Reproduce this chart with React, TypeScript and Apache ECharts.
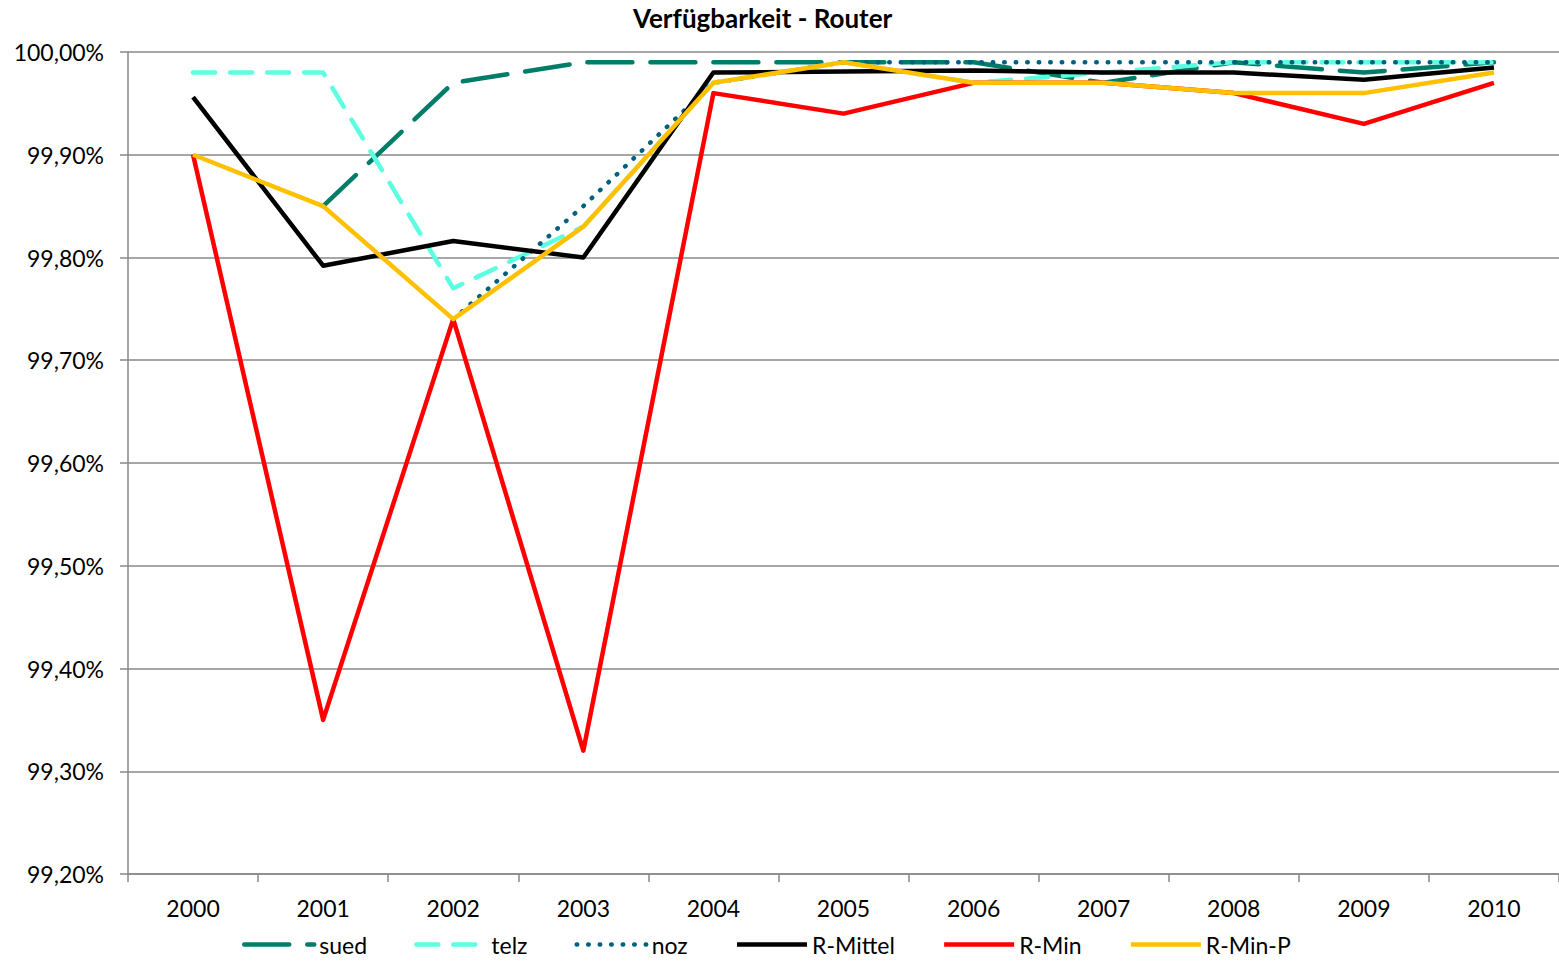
import React, { useEffect, useRef } from "react";
import * as echarts from "echarts";

const years = ["2000", "2001", "2002", "2003", "2004", "2005", "2006", "2007", "2008", "2009", "2010"];
const sued = [null, 99.85, 99.97, 99.99, 99.99, 99.99, 99.99, 99.97, 99.99, 99.98, 99.99];
const telz = [99.98, 99.98, 99.77, 99.83, 99.97, 99.99, 99.97, 99.98, 99.99, 99.99, 99.99];
const noz = [null, null, 99.74, 99.85, 99.97, 99.99, 99.99, 99.99, 99.99, 99.99, 99.99];
const rMittel = [99.956, 99.792, 99.816, 99.8, 99.98, 99.981, 99.982, 99.98, 99.98, 99.973, 99.985];
const rMin = [99.9, 99.35, 99.74, 99.32, 99.96, 99.94, 99.97, 99.97, 99.96, 99.93, 99.97];
const rMinP = [99.9, 99.85, 99.74, 99.83, 99.97, 99.99, 99.97, 99.97, 99.96, 99.96, 99.98];

const FONT = "Lato, 'Open Sans', sans-serif";

export default function App() {
  const ref = useRef<HTMLDivElement>(null);
  useEffect(() => {
    if (!ref.current) return;
    const chart = echarts.init(ref.current, undefined, { renderer: "svg" });
    const mk = (name: string, data: (number | null)[], color: string, type: any, cap: any = "butt") => ({
      name,
      type: "line",
      data,
      symbol: "none",
      lineStyle: { color, width: 4.5, type, cap, join: "round" },
      itemStyle: { color },
    });
    chart.setOption({
      animation: false,
      textStyle: { fontFamily: FONT },
      title: {
        text: "Verfügbarkeit - Router",
        left: 628,
        top: 0,
        textStyle: { fontFamily: FONT, fontSize: 26, fontWeight: "bold", color: "#000" },
      },
      grid: { left: 128, right: 0, top: 52, bottom: 87 },
      legend: {
        bottom: 0,
        left: 237,
        itemWidth: 70,
        itemHeight: 6,
        itemGap: 47,
        lineStyle: { width: 4.5 },
        itemStyle: { opacity: 0 },
        textStyle: { fontFamily: FONT, fontSize: 23, color: "#000" },
        data: ["sued", "telz", "noz", "R-Mittel", "R-Min", "R-Min-P"],
      },
      xAxis: {
        type: "category",
        data: years,
        boundaryGap: true,
        axisLine: { lineStyle: { color: "#888", width: 1.5 } },
        axisTick: { show: true, length: 8, lineStyle: { color: "#888", width: 1.5 } },
        axisLabel: { fontFamily: FONT, fontSize: 23, color: "#000", margin: 22 },
      },
      yAxis: {
        type: "value",
        min: 99.2,
        max: 100,
        interval: 0.1,
        axisLine: { show: true, lineStyle: { color: "#888", width: 1.5 } },
        axisTick: { show: true, length: 8, lineStyle: { color: "#888", width: 1.5 } },
        splitLine: { lineStyle: { color: "#888", width: 1.5 } },
        axisLabel: {
          fontFamily: FONT,
          fontSize: 23,
          color: "#000",
          margin: 24,
          formatter: (v: number) => v.toFixed(2).replace(".", ",") + "%",
        },
      },
      series: [
        mk("sued", sued, "#007D68", [45, 18], "round"),
        mk("telz", telz, "#5CFFDF", [22, 15], "round"),
        mk("noz", noz, "#006080", [0.5, 11], "round"),
        mk("R-Mittel", rMittel, "#000000", "solid"),
        mk("R-Min", rMin, "#FF0000", "solid"),
        mk("R-Min-P", rMinP, "#FFC000", "solid"),
      ],
    });
    return () => chart.dispose();
  }, []);
  return (
    <div
      ref={ref}
      style={{ position: "absolute", left: 0, top: 0, width: 1559, height: 961, background: "#fff" }}
    />
  );
}
